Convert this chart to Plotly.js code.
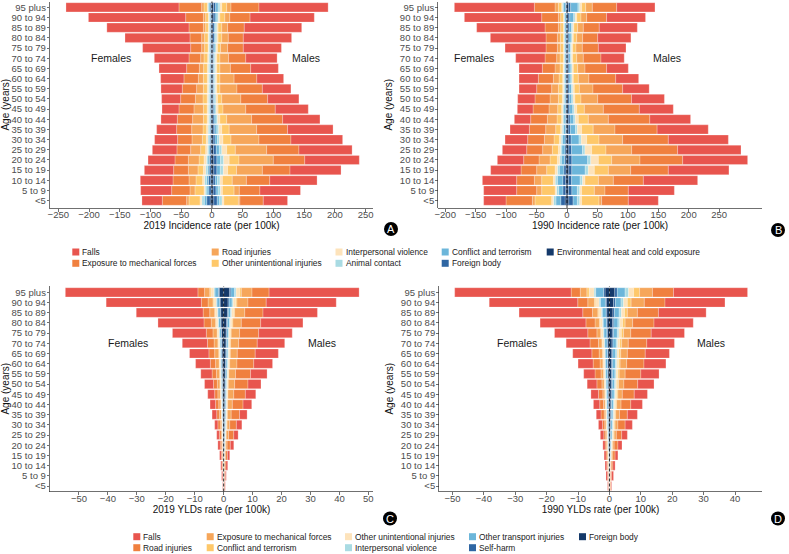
<!DOCTYPE html>
<html>
<head>
<meta charset="utf-8">
<script src="https://cdn.plot.ly/plotly-3.0.1.min.js"></script>
<style>html,body{margin:0;padding:0;background:#fff;}#chart{width:789px;height:554px;}</style>
</head>
<body>
<div id="chart"></div>
<script>
// ---------- categories ----------
const ages = ["<5","5 to 9","10 to 14","15 to 19","20 to 24","25 to 29","30 to 34","35 to 39","40 to 44","45 to 49","50 to 54","55 to 59","60 to 64","65 to 69","70 to 74","75 to 79","80 to 84","85 to 89","90 to 94","95 plus"];

// incidence causes, stacked from the centre outwards
const incCauses = ["Environmental heat and cold exposure","Foreign body","Conflict and terrorism","Animal contact","Interpersonal violence","Other unintentional injuries","Road injuries","Exposure to mechanical forces","Falls"];
// YLD causes, stacked from the centre outwards
const yldCauses = ["Foreign body","Self-harm","Other transport injuries","Interpersonal violence","Other unintentional injuries","Conflict and terrorism","Exposure to mechanical forces","Road injuries","Falls"];

// tick labels
const ticksA = [-250,-200,-150,-100,-50,0,50,100,150,200,250];
const ticksB = [-200,-150,-100,-50,0,50,100,150,200,250];
const ticksC = [-50,-40,-30,-20,-10,0,10,20,30,40,50];
const ticksD = [-50,-40,-30,-20,-10,0,10,20,30,40];

// ---------- A: 2019 incidence (per 100k), ages <5 .. 95 plus ----------
const a19M_falls    = [39.5,66,77,83,88.7,86.5,84.1,74,60.7,53.7,50.9,46.5,43.6,45,51,62,78.6,93.4,104.5,112.5];
const a19M_exposure = [38,33.5,38,45,51.2,52.5,52,50.3,50.5,48,43.6,41.3,37,33,28,25.5,24.4,27.1,33,45.5];
const a19M_road     = [2.5,8.5,23,42,55.8,51,45.5,44.7,40.5,37,31,27.7,23,17,14,11.5,10.6,9.5,8,7];
const a19M_other    = [23.5,19,16,14.5,16,14,13,12,11,8,7,5,5,5,5,5,6,6,8,8];
const a19M_interp   = [3,3,4,7,9,8,6,5,4,3,2.5,2,2,2,2,2,2,2,2.5,3];
const a19M_animal   = [4,4,4,5,5,4,3,3,2.5,2,2,2,2,2,2,2,2,2,2.5,3];
const a19M_conflict = [4,3.5,3.5,5.5,6,5,4,3.5,3,2,2,1.5,1.5,1.5,1.5,2,2,2,3,4];
const a19M_fb       = [5.5,4.5,3.5,5,5,4.5,3,2.5,2,1.8,1.5,1.5,1.5,1.5,1.5,2,2.5,2.5,3,3.5];
const a19M_env      = [3,2,2,3,3,2.5,2,2,1.5,1.2,1,1,1,1,1,1,1.5,1.5,2,2.5];

const a19F_falls    = [33.1,50.4,53.2,47.6,43.8,40,37.4,32.5,26.6,27.6,30.9,34.7,37.9,45,56.4,78.1,105.7,133.6,158.2,183.8];
const a19F_exposure = [39.6,29.8,26,23.9,21.7,22.3,23.4,24.5,24.9,24.4,24,23.3,23.4,20.6,19,17.9,19,23.4,28.8,36.9];
const a19F_road     = [3.8,8.1,11.4,15.7,17.5,16.3,16.8,18.4,17.5,15.3,12.4,11,8.2,7,5.4,4.8,4.8,3.7,3.7,3.8];
const a19F_other    = [17.9,14.7,10.8,8.8,8,8.1,6.5,5.9,6,6,6.6,6.4,6.4,6,6,5.5,5.5,4.3,4.3,5.4];
const a19F_interp   = [3,2,3,4,4,3,2.7,2.5,2.2,2,2,1.8,1.8,1.6,1.5,1.3,1.2,1,1,1.1];
const a19F_animal   = [4,3,3.5,3,2.5,2,2,2,2,2,2,2,2,2,1.8,1.6,1.5,1.4,1.3,1.6];
const a19F_conflict = [4,3,3,2.5,2.5,2,1.8,1.7,1.5,1.5,1.5,1.4,1.4,1.5,1.4,1.3,1.4,1.3,1.4,1.9];
const a19F_fb       = [5.5,3.5,3.7,3,2.5,2,1.7,1.5,1.3,1.5,1.5,1.4,1.4,1.5,1.4,1.4,1.5,1.4,1.4,1.8];
const a19F_env      = [3,1.5,2,1.5,1.5,1.3,1,1,1,1,1,1,1,1,0.9,0.9,0.9,0.9,0.9,1.2];

// ---------- B: 1990 incidence (per 100k) ----------
const b90M_falls    = [49.3,75.6,89.2,99.6,106.7,104.1,98.6,84,67,55.8,54,43.6,37.7,35.7,38.2,45.4,54.6,62.5,64,62.9];
const b90M_exposure = [43.8,38.3,49.3,61.8,70.1,75.5,75,69.2,68.1,59.1,55.6,48.7,44,35.4,29,26.3,24.7,26.2,32.7,40];
const b90M_road     = [4.3,17.5,24.6,36.7,46.5,42.2,38.8,35.8,32.9,31.2,27.4,22.4,17.4,12.1,10.8,10.4,9.7,9.3,9.3,10.9];
const b90M_other    = [28.6,20.9,21.9,23,21.9,23.5,20.3,19,16.4,12.5,10,8.3,8.2,7.1,6.7,5.5,5.6,6,7,6.7];
const b90M_interp   = [3,3,4,10,12.5,11,9,7,5,4,3,2.5,2,2,1.8,1.8,1.8,2,2.5,3];
const b90M_animal   = [4,4,4,5,5,4,3.5,3,2.5,2.5,2.2,2.2,2,2,1.8,1.8,2,2,2.5,3];
const b90M_conflict = [7,9,14,22,26,18,13,8.5,6,5,4,3.8,3.2,3.2,2.8,2.8,3.4,4,6.5,12];
const b90M_fb       = [7,5.5,5,5,5,4.5,4,3.5,3,2.8,2.3,2.2,2,2,1.8,1.8,2,2.2,2.8,3.5];
const b90M_env      = [3,2.5,2.6,2.9,3,3,2.8,2,2.1,1.7,1.5,1.3,1.2,1.2,1.1,1.1,1.2,1.3,1.7,2.5];

const b90F_falls    = [36.7,54.2,56.3,49.9,43.2,40,37.2,31.7,26.8,25.8,28.4,29,31.7,38.3,48.2,67.3,91.4,112.3,127,131.4];
const b90F_exposure = [43.3,32.9,29.1,25.7,25.2,26.2,27.4,26.9,27.4,26.2,24.7,24.6,24.7,20.8,19.1,18.6,18.6,21.9,27.4,33.9];
const b90F_road     = [4.3,8.2,12,16.4,18.1,15.9,15.9,16.4,15.9,14.3,13.7,11,9.3,8.2,5.5,5,5,3.8,3.8,5.5];
const b90F_other    = [27.4,21.9,19.2,13.7,12,9.9,8.7,8.2,7.6,6.5,6.5,7.1,6,4.9,5.5,4.9,4.9,4.4,4.4,5.4];
const b90F_interp   = [3,2.5,3,4,4,3.5,3,2.5,2,2,1.7,1.5,1.5,1.3,1.2,1.1,1,1,0.9,1.1];
const b90F_animal   = [4,3.5,3.5,3,2.5,2.2,2,2,1.8,1.8,1.7,1.6,1.6,1.5,1.4,1.4,1.4,1.3,1.3,1.6];
const b90F_conflict = [8,7,9,7.5,5.5,5,4.5,3.5,2.8,2.8,2.3,2.1,2.1,2,1.8,1.9,2,2.1,2.2,3.5];
const b90F_fb       = [7,4.5,4.5,3.5,2.5,2.2,2,1.5,1.4,1.4,1.2,1.2,1.2,1.1,1,1,1,1,1,1.6];
const b90F_env      = [3.2,2.2,2.4,1.7,1.4,1.3,1.1,0.9,0.8,0.8,0.8,0.7,0.7,0.7,0.6,0.6,0.6,0.6,0.6,1];

// ---------- C: 2019 YLDs (per 100k) ----------
const c19M_falls    = [0.2,0.3,0.6,0.8,1.2,1.5,1.9,2.6,3,3.6,4.5,5.7,6.5,8,9.5,11.6,14.6,18.8,24.2,31.1];
const c19M_road     = [0.15,0.25,0.35,0.6,1.1,1.8,2.3,2.9,3.7,4,4.6,5.2,5.8,6.2,6.4,6.6,6.7,6.3,6.3,5.9];
const c19M_exposure = [0.1,0.17,0.2,0.25,0.5,0.8,0.9,1.3,1.6,2,2.2,2.3,2.5,2.4,2.8,2.9,2.9,3.5,3.8,3.7];
const c19M_conflict = [0.01,0.02,0.03,0.06,0.1,0.1,0.15,0.15,0.15,0.15,0.15,0.15,0.2,0.2,0.2,0.25,0.3,0.35,0.4,0.6];
const c19M_other    = [0.02,0.04,0.05,0.08,0.1,0.15,0.2,0.2,0.2,0.25,0.25,0.3,0.35,0.4,0.45,0.45,0.6,0.7,0.9,1.2];
const c19M_interp   = [0.01,0.02,0.03,0.07,0.12,0.15,0.2,0.2,0.2,0.2,0.2,0.2,0.25,0.25,0.25,0.25,0.3,0.35,0.4,0.5];
const c19M_otrans   = [0.02,0.04,0.06,0.1,0.15,0.2,0.25,0.25,0.3,0.3,0.35,0.4,0.45,0.5,0.5,0.55,0.7,0.8,1.0,1.3];
const c19M_selfharm = [0,0.01,0.02,0.04,0.08,0.1,0.15,0.2,0.2,0.2,0.2,0.2,0.2,0.2,0.2,0.25,0.3,0.3,0.4,0.5];
const c19M_fb       = [0.04,0.05,0.06,0.1,0.15,0.2,0.25,0.3,0.35,0.4,0.45,0.55,0.65,0.75,0.8,0.85,1.0,1.3,1.5,2.0];

const c19F_falls    = [0.18,0.35,0.4,0.6,0.8,0.9,1.1,1.6,1.9,2.4,3.1,3.9,5.1,6.7,8.7,11.7,15.9,23.1,32.9,45.8];
const c19F_road     = [0.07,0.13,0.25,0.35,0.5,0.6,0.8,0.9,1.1,1.1,1.3,1.5,1.8,2,2.3,2.3,2.5,2.3,2.3,2.3];
const c19F_exposure = [0.04,0.1,0.15,0.15,0.25,0.3,0.5,0.6,0.7,0.8,0.9,1.1,1.2,1.4,1.3,1.4,1.5,1.7,1.7,1.8];
const c19F_conflict = [0.005,0.01,0.02,0.03,0.05,0.07,0.08,0.1,0.1,0.1,0.12,0.12,0.15,0.15,0.2,0.2,0.25,0.25,0.3,0.4];
const c19F_other    = [0.015,0.03,0.04,0.05,0.07,0.09,0.1,0.14,0.16,0.2,0.22,0.25,0.3,0.3,0.4,0.45,0.55,0.65,0.8,1.0];
const c19F_interp   = [0.005,0.01,0.02,0.04,0.06,0.08,0.1,0.12,0.13,0.15,0.15,0.15,0.15,0.15,0.2,0.2,0.25,0.25,0.3,0.4];
const c19F_otrans   = [0.01,0.02,0.04,0.06,0.09,0.12,0.14,0.18,0.2,0.25,0.28,0.3,0.35,0.4,0.45,0.55,0.7,0.75,0.9,1.2];
const c19F_selfharm = [0,0,0.01,0.03,0.05,0.07,0.08,0.1,0.11,0.12,0.13,0.13,0.15,0.15,0.15,0.15,0.15,0.2,0.2,0.3];
const c19F_fb       = [0.025,0.05,0.07,0.09,0.13,0.17,0.2,0.26,0.3,0.38,0.4,0.45,0.5,0.55,0.6,0.75,0.9,1.0,1.2,1.5];

// ---------- D: 1990 YLDs (per 100k) ----------
const d90M_falls    = [0.2,0.6,0.7,0.9,1.3,1.8,2.3,3.2,3.7,4.2,5.2,5.8,7,7.7,8.8,10.6,12.5,15.2,19.1,23.6];
const d90M_road     = [0.2,0.3,0.5,0.7,1.2,1.7,2.3,2.5,3.1,3.8,4.4,5,5.5,5.7,5.9,6.5,6.8,6.7,6.6,6.7];
const d90M_exposure = [0.1,0.1,0.2,0.4,0.5,0.7,0.9,1.2,1.4,1.4,1.7,1.9,2.1,2.1,2.1,2.3,2.4,3.2,4.2,4.1];
const d90M_conflict = [0.02,0.04,0.05,0.1,0.15,0.25,0.3,0.3,0.35,0.4,0.4,0.45,0.5,0.55,0.6,0.7,0.8,0.9,1.2,1.9];
const d90M_other    = [0.05,0.06,0.08,0.12,0.15,0.25,0.3,0.35,0.4,0.45,0.5,0.55,0.6,0.65,0.7,0.8,0.9,1.0,1.2,1.6];
const d90M_interp   = [0.02,0.03,0.05,0.1,0.15,0.2,0.25,0.25,0.3,0.35,0.35,0.35,0.4,0.4,0.45,0.5,0.6,0.7,0.8,1.1];
const d90M_otrans   = [0.04,0.07,0.1,0.18,0.25,0.4,0.45,0.5,0.6,0.7,0.75,0.8,0.9,0.95,1.0,1.2,1.3,1.5,1.8,2.5];
const d90M_selfharm = [0,0.01,0.02,0.05,0.1,0.1,0.15,0.2,0.2,0.25,0.3,0.3,0.3,0.3,0.35,0.4,0.4,0.5,0.6,0.8];
const d90M_fb       = [0.07,0.09,0.1,0.15,0.2,0.3,0.35,0.4,0.45,0.55,0.6,0.65,0.7,0.75,0.8,0.9,1.0,1.1,1.3,1.7];

const d90F_falls    = [0.2,0.5,0.55,0.6,0.7,1.1,1.3,1.5,2,2.4,3.1,3.6,4.8,6.1,7.6,10.6,14.6,20.3,28.2,37.1];
const d90F_road     = [0.1,0.2,0.25,0.4,0.4,0.6,0.7,1,1.2,1.4,1.6,1.9,2.2,2.3,2.7,2.9,2.9,3.1,3.2,2.9];
const d90F_exposure = [0.1,0.1,0.2,0.2,0.3,0.35,0.4,0.5,0.5,0.6,0.7,0.8,0.9,1.1,1.1,1.2,1.4,1.7,2.1,2.1];
const d90F_conflict = [0.02,0.03,0.04,0.06,0.08,0.1,0.12,0.12,0.15,0.15,0.15,0.15,0.2,0.2,0.2,0.2,0.25,0.3,0.4,0.7];
const d90F_other    = [0.04,0.06,0.07,0.08,0.11,0.14,0.18,0.2,0.25,0.25,0.3,0.35,0.4,0.45,0.5,0.6,0.7,0.8,1.1,1.6];
const d90F_interp   = [0.01,0.02,0.04,0.06,0.08,0.1,0.12,0.13,0.15,0.15,0.2,0.2,0.2,0.2,0.2,0.25,0.25,0.3,0.4,0.5];
const d90F_otrans   = [0.05,0.08,0.11,0.14,0.2,0.24,0.32,0.35,0.4,0.45,0.5,0.6,0.65,0.7,0.75,0.9,1.05,1.2,1.6,2.5];
const d90F_selfharm = [0,0.01,0.03,0.05,0.08,0.09,0.12,0.13,0.15,0.15,0.15,0.15,0.15,0.15,0.2,0.2,0.2,0.25,0.3,0.5];
const d90F_fb       = [0.08,0.1,0.11,0.11,0.15,0.18,0.24,0.27,0.3,0.35,0.4,0.45,0.5,0.5,0.55,0.65,0.75,0.85,1.0,1.4];

// ---------- styling ----------
const FONT = "Liberation Sans, Arial, Helvetica, sans-serif";
const C_NAVY = "#14396a", C_DBLUE = "#2f66a3", C_BLUE = "#6cb6da", C_PBLUE = "#a9dbe3",
      C_CREAM = "#fde3bb", C_YEL = "#fec86a", C_LOR = "#f6a65a", C_OR = "#f0803f", C_RED = "#e8554e";
const colorsInner2Outer = [C_NAVY, C_DBLUE, C_BLUE, C_PBLUE, C_CREAM, C_YEL, C_LOR, C_OR, C_RED];

const W = 789, H = 554;
const px = v => v / W, py = v => 1 - v / H;

const panels = [
  {xa:"x",  ya:"y",  causes:incCauses,
   M:[a19M_env,a19M_fb,a19M_conflict,a19M_animal,a19M_interp,a19M_other,a19M_road,a19M_exposure,a19M_falls],
   F:[a19F_env,a19F_fb,a19F_conflict,a19F_animal,a19F_interp,a19F_other,a19F_road,a19F_exposure,a19F_falls]},
  {xa:"x2", ya:"y2", causes:incCauses,
   M:[b90M_env,b90M_fb,b90M_conflict,b90M_animal,b90M_interp,b90M_other,b90M_road,b90M_exposure,b90M_falls],
   F:[b90F_env,b90F_fb,b90F_conflict,b90F_animal,b90F_interp,b90F_other,b90F_road,b90F_exposure,b90F_falls]},
  {xa:"x3", ya:"y3", causes:yldCauses,
   M:[c19M_fb,c19M_selfharm,c19M_otrans,c19M_interp,c19M_other,c19M_conflict,c19M_exposure,c19M_road,c19M_falls],
   F:[c19F_fb,c19F_selfharm,c19F_otrans,c19F_interp,c19F_other,c19F_conflict,c19F_exposure,c19F_road,c19F_falls]},
  {xa:"x4", ya:"y4", causes:yldCauses,
   M:[d90M_fb,d90M_selfharm,d90M_otrans,d90M_interp,d90M_other,d90M_conflict,d90M_exposure,d90M_road,d90M_falls],
   F:[d90F_fb,d90F_selfharm,d90F_otrans,d90F_interp,d90F_other,d90F_conflict,d90F_exposure,d90F_road,d90F_falls]}
];

const traces = [];
panels.forEach(p => {
  ["F","M"].forEach(sex => {
    p[sex].forEach((vals, k) => {
      traces.push({
        type:"bar", orientation:"h", y:ages,
        x: sex === "F" ? vals.map(v => -v) : vals.slice(),
        xaxis:p.xa, yaxis:p.ya, name:p.causes[k], legendgroup:p.causes[k],
        showlegend:false, width:0.9,
        marker:{color:colorsInner2Outer[k], line:{color:"#ffffff", width:0.25}},
        hovertemplate:(sex==="F"?"Females":"Males")+" %{y}<br>"+p.causes[k]+": %{customdata}<extra></extra>",
        customdata: vals
      });
    });
  });
});

const tickFont = {family:FONT, size:9.5, color:"#4d4d4d"};
const titleFont = {family:FONT, size:10, color:"#111"};
function xAxis(dom, range, ticks, title, anchor){
  return {domain:dom, range:range, anchor:anchor, tickmode:"array", tickvals:ticks,
    ticks:"outside", ticklen:3, tickwidth:0.7, tickcolor:"#333", showline:true, linecolor:"#333", linewidth:0.7,
    showgrid:false, zeroline:false, tickfont:tickFont, fixedrange:true, ticklabelstandoff:-5,
    title:{text:title, font:titleFont, standoff:0}};
}
function yAxis(dom, range, anchor){
  return {domain:dom, range:range, anchor:anchor, type:"category", categoryorder:"array", categoryarray:ages,
    tickmode:"array", tickvals:ages, ticktext:ages,
    ticks:"outside", ticklen:2.5, tickwidth:0.7, tickcolor:"#333", showline:true, linecolor:"#333", linewidth:0.7,
    showgrid:false, zeroline:false, tickfont:tickFont, fixedrange:true, ticklabelstandoff:-1,
    title:{text:"Age (years)", font:titleFont, standoff:5}};
}

const domTop = [py(208), py(1.5)], domBot = [py(491.5), py(286)];
const layout = {
  width:W, height:H, margin:{l:0,r:0,t:0,b:0}, paper_bgcolor:"#fff", plot_bgcolor:"#fff",
  font:{family:FONT, color:"#111"}, barmode:"relative", showlegend:false,
  xaxis:  xAxis([px(50),px(373)],    [-263.5,262],   ticksA, "2019 Incidence rate (per 100k)", "y"),
  yaxis:  yAxis(domTop, [-0.717,19.57], "x"),
  xaxis2: xAxis([px(438.3),px(761.7)],[-211.4,319.8], ticksB, "1990 Incidence rate (per 100k)", "y2"),
  yaxis2: yAxis(domTop, [-0.717,19.57], "x2"),
  xaxis3: xAxis([px(50),px(373)],    [-60,51.6],     ticksC, "2019 YLDs rate (per 100k)", "y3"),
  yaxis3: yAxis(domBot, [-0.54,19.62], "x3"),
  xaxis4: xAxis([px(439.3),px(761.7)],[-54.2,48.5],  ticksD, "1990 YLDs rate (per 100k)", "y4"),
  yaxis4: yAxis(domBot, [-0.54,19.62], "x4"),
  shapes:[], annotations:[]
};

// dashed zero lines
["x","x2","x3","x4"].forEach((xa,i) => {
  layout.shapes.push({type:"line", xref:xa, yref:["y","y2","y3","y4"][i]+" domain", x0:0, x1:0, y0:0, y1:1,
    line:{color:"#000", width:0.8, dash:"3px,2px"}, layer:"above"});
});

// Females / Males labels
const sexLabels = [
  {xa:"x",  ya:"y",  f:-164,  m:153},
  {xa:"x2", ya:"y2", f:-153,  m:165},
  {xa:"x3", ya:"y3", f:-33.2, m:33.9},
  {xa:"x4", ya:"y4", f:-29.5, m:32.2}
];
sexLabels.forEach(s => {
  [["Females", s.f], ["Males", s.m]].forEach(([t, xv]) => {
    layout.annotations.push({text:t, xref:s.xa, yref:s.ya, x:xv, y:"70 to 74", showarrow:false,
      font:{family:FONT, size:10.5, color:"#1a1a1a"}, xanchor:"center", yanchor:"middle"});
  });
});

// panel badges
[["A",391,229],["B",778,230],["C",390,518.5],["D",778,518.5]].forEach(([t,cx,cy]) => {
  const r = 7;
  layout.shapes.push({type:"circle", xref:"paper", yref:"paper", x0:px(cx-r), x1:px(cx+r), y0:py(cy+r), y1:py(cy-r),
    fillcolor:"#000", line:{color:"#000", width:0}});
  layout.annotations.push({text:t, xref:"paper", yref:"paper", x:px(cx), y:py(cy), showarrow:false,
    font:{family:FONT, size:11, color:"#fff"}, xanchor:"center", yanchor:"middle"});
});

// legends (column-major, two rows), listed outer -> inner
function addLegend(causes, colors, colX, rowY){
  const names = causes.slice().reverse(), cols = colors.slice().reverse();
  names.forEach((n, k) => {
    const cx = colX[Math.floor(k/2)], cy = rowY[k%2];
    layout.shapes.push({type:"rect", xref:"paper", yref:"paper", x0:px(cx), x1:px(cx+7), y0:py(cy+3.5), y1:py(cy-3.5),
      fillcolor:cols[k], line:{width:0}});
    layout.annotations.push({text:n, xref:"paper", yref:"paper", x:px(cx+8), y:py(cy), showarrow:false,
      xanchor:"left", yanchor:"middle", font:{family:FONT, size:8.4, color:"#222"}});
  });
}
addLegend(incCauses, colorsInner2Outer, [72.3,211.7,335.5,441.7,546.7], [252,263.3]);
addLegend(yldCauses, colorsInner2Outer, [133.3,206.7,345,469,579], [536.7,547.7]);

Plotly.newPlot("chart", traces, layout, {displayModeBar:false, staticPlot:true});
</script>
</body>
</html>
